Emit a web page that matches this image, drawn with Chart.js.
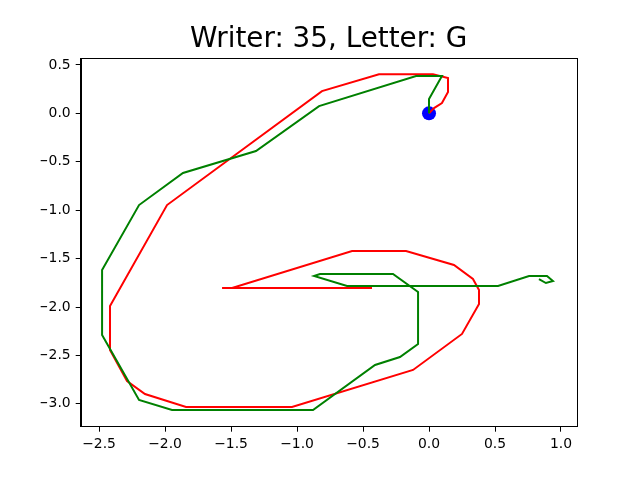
<!DOCTYPE html>
<html>
<head>
<meta charset="utf-8">
<script src="https://cdn.jsdelivr.net/npm/chart.js@4"></script>
<style>
  body { margin: 0; background: #fff; }
</style>
</head>
<body>
<canvas id="letter-chart" width="640" height="480"></canvas>
<script>
// stroke points (x, y)
var redX = [0, 0.038, 0.098, 0.144, 0.144, 0.030, -0.379, -0.811, -1.985, -2.417, -2.417, -2.288, -2.152, -1.841, -1.038, -0.121, 0.250, 0.379, 0.379, 0.333, 0.189, -0.174, -0.583, -1.492, -1.568, -0.432];
var redY = [0, 0.055, 0.106, 0.220, 0.364, 0.403, 0.403, 0.230, -0.947, -1.989, -2.444, -2.764, -2.898, -3.032, -3.032, -2.650, -2.278, -1.969, -1.824, -1.711, -1.566, -1.422, -1.422, -1.804, -1.804, -1.804];

var greenX = [0, 0, 0.098, -0.098, -0.833, -1.311, -1.864, -2.197, -2.477, -2.477, -2.197, -1.947, -0.879, -0.409, -0.220, -0.083, -0.083, -0.273, -0.826, -0.871, -0.621, 0.523, 0.758, 0.894, 0.939, 0.886, 0.833];
var greenY = [0, 0.148, 0.385, 0.385, 0.075, -0.389, -0.616, -0.947, -1.618, -2.289, -2.960, -3.063, -3.063, -2.598, -2.516, -2.382, -1.845, -1.659, -1.659, -1.680, -1.783, -1.783, -1.680, -1.680, -1.732, -1.752, -1.711];

var startX = [0];
var startY = [0];

var xTicks = [-2.5, -2.0, -1.5, -1.0, -0.5, 0.0, 0.5, 1.0];
var yTicks = [-3.0, -2.5, -2.0, -1.5, -1.0, -0.5, 0.0, 0.5];

function toPoints(xs, ys) {
    return xs.map(function (x, i) { return { x: x, y: ys[i] }; });
}

function tickLabel(value) {
    return value.toFixed(1).replace('-', '\u2212');
}

Chart.defaults.font.family = 'DejaVu Sans';
Chart.defaults.font.size = 13.9;
Chart.defaults.color = '#000';

// frame around the plot area
var frame = {
    id: 'frame',
    afterDraw: function (chart) {
        var a = chart.chartArea;
        var ctx = chart.ctx;
        ctx.save();
        ctx.strokeStyle = '#000';
        ctx.lineWidth = 1;
        ctx.strokeRect(Math.round(a.left) + 0.5, Math.round(a.top) + 0.5, Math.round(a.right - a.left), Math.round(a.bottom - a.top));
        ctx.restore();
    }
};

new Chart(document.getElementById('letter-chart'), {
    type: 'scatter',
    data: {
        datasets: [
            {
                label: 'green',
                data: toPoints(greenX, greenY),
                showLine: true,
                borderColor: '#008000',
                borderWidth: 2,
                pointRadius: 0,
                tension: 0
            },
            {
                label: 'red',
                data: toPoints(redX, redY),
                showLine: true,
                borderColor: '#ff0000',
                borderWidth: 2,
                pointRadius: 0,
                tension: 0
            },
            {
                label: 'start',
                data: toPoints(startX, startY),
                backgroundColor: '#0000ff',
                borderColor: '#0000ff',
                pointRadius: 7,
                borderWidth: 0
            }
        ]
    },
    options: {
        responsive: false,
        animation: false,
        // symmetric outer padding so the title centres over the axes
        layout: { padding: { left: 40.7, right: 23.3 } },
        plugins: {
            legend: { display: false },
            tooltip: { enabled: false },
            title: {
                display: true,
                text: 'Writer: 35, Letter: G',
                font: { size: 27.8, weight: 'normal' },
                color: '#000',
                padding: { top: 23, bottom: 2 }
            }
        },
        scales: {
            x: {
                type: 'linear',
                min: -2.639,
                max: 1.119,
                afterFit: function (scale) { scale.height = 53.3; },
                afterBuildTicks: function (scale) {
                    scale.ticks = xTicks.map(function (v) { return { value: v }; });
                },
                ticks: { callback: tickLabel, padding: 4, maxRotation: 0 },
                grid: { drawOnChartArea: false, drawTicks: true, tickLength: 5, color: '#000' },
                border: { display: true, color: '#000' }
            },
            y: {
                type: 'linear',
                min: -3.236,
                max: 0.568,
                afterFit: function (scale) { scale.width = 40; },
                afterBuildTicks: function (scale) {
                    scale.ticks = yTicks.map(function (v) { return { value: v }; });
                },
                ticks: { callback: tickLabel, padding: 5 },
                grid: { drawOnChartArea: false, drawTicks: true, tickLength: 5, color: '#000' },
                border: { display: true, color: '#000' }
            },
            // empty spacer on the right, balances the left axis
            yRight: {
                type: 'linear',
                position: 'right',
                afterFit: function (scale) { scale.width = 40; },
                ticks: { display: false },
                grid: { display: false },
                border: { display: false }
            }
        }
    },
    plugins: [frame]
});
</script>
</body>
</html>
